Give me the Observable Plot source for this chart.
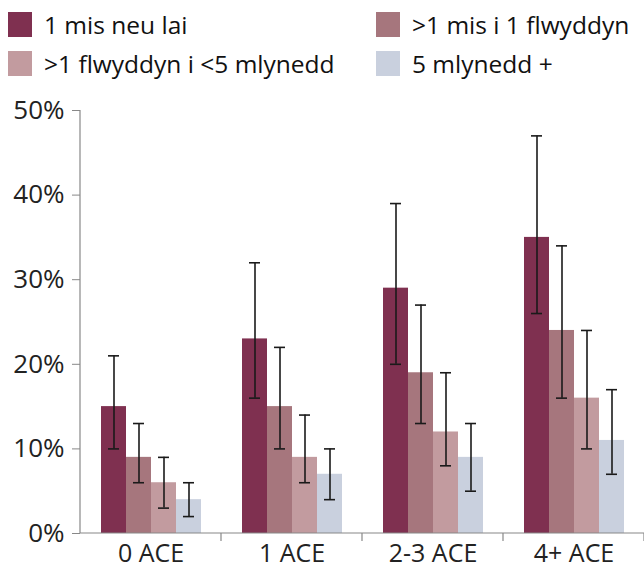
<!DOCTYPE html>
<html>
<head>
<meta charset="utf-8">
<script src="https://cdn.jsdelivr.net/npm/d3@7"></script>
<script src="https://cdn.jsdelivr.net/npm/@observablehq/plot@0.6"></script>
<style>
  body { margin: 0; background: #fff; font-family: "Open Sans", sans-serif; }
  #legend { display: grid; grid-template-columns: 368px 268px; row-gap: 10px; padding: 12px 0 0 8px; height: 80px; box-sizing: border-box; }
  .item { display: flex; align-items: center; font-family: "Open Sans", sans-serif; font-size: 24.5px; color: #111; height: 25px; white-space: nowrap; }
  .sw { width: 24px; height: 25px; margin-right: 12px; flex: none; }
</style>
</head>
<body>
<div id="legend"></div>
<div id="chart"></div>
<script>
const groups = ["0 ACE", "1 ACE", "2-3 ACE", "4+ ACE"];
const series = ["1 mis neu lai", ">1 mis i 1 flwyddyn", ">1 flwyddyn i <5 mlynedd", "5 mlynedd +"];
const colors = ["#7f3050", "#a6767d", "#c29b9f", "#c9d0de"];
// values per series across groups (percent)
const v1 = [15, 23, 29, 35];
const v2 = [9, 15, 19, 24];
const v3 = [6, 9, 12, 16];
const v4 = [4, 7, 9, 11];
const lo1 = [10, 16, 20, 26];
const lo2 = [6, 10, 13, 16];
const lo3 = [3, 6, 8, 10];
const lo4 = [2, 4, 5, 7];
const hi1 = [21, 32, 39, 47];
const hi2 = [13, 22, 27, 34];
const hi3 = [9, 14, 19, 24];
const hi4 = [6, 10, 13, 17];
const yTicks = [0, 10, 20, 30, 40, 50];

const vals = [v1, v2, v3, v4], los = [lo1, lo2, lo3, lo4], his = [hi1, hi2, hi3, hi4];
const data = [];
groups.forEach((g, i) => series.forEach((s, j) => data.push({group: g, series: s, value: vals[j][i], lo: los[j][i], hi: his[j][i]})));

const legend = document.getElementById("legend");
series.forEach((s, j) => {
  const it = document.createElement("div");
  it.className = "item";
  const sw = document.createElement("span");
  sw.className = "sw";
  sw.style.background = colors[j];
  const t = document.createElement("span");
  t.textContent = s;
  it.append(sw, t);
  legend.append(it);
});

const plot = Plot.plot({
  width: 644,
  height: 488,
  marginLeft: 80,
  marginRight: 0,
  marginTop: 30,
  marginBottom: 35,
  style: {fontFamily: "Open Sans", fontSize: "24px", color: "#222", background: "#fff"},
  fx: {domain: groups, padding: 0, label: null},
  x: {domain: series, paddingInner: 0, paddingOuter: 0.76, axis: null},
  y: {domain: [0, 50], label: null},
  color: {domain: series, range: colors},
  facet: {data, x: "group", marginBottom: 35},
  marks: [
    Plot.axisFx({anchor: "bottom", tickSize: 0, tickPadding: 11, fontSize: 25, fill: "#222", label: null}),
    Plot.axisY({ticks: yTicks, tickFormat: d => d + "%", tickSize: 8, tickPadding: 8, stroke: "#888", fontSize: 26, fill: "#222", label: null}),
    Plot.barY(data, {x: "series", y: "value", fill: "series"}),
    Plot.ruleX(data, {x: "series", y1: "lo", y2: "hi", stroke: "#1a1a1a", strokeWidth: 1.6}),
    Plot.tickY(data, {x: "series", y: "lo", stroke: "#1a1a1a", strokeWidth: 1.6, insetLeft: 7, insetRight: 7}),
    Plot.tickY(data, {x: "series", y: "hi", stroke: "#1a1a1a", strokeWidth: 1.6, insetLeft: 7, insetRight: 7})
  ]
});
document.getElementById("chart").append(plot);

// axis lines and group boundary ticks, placed through Plot's scales
const fx = plot.scale("fx"), y = plot.scale("y");
const svg = d3.select(plot);
const x0 = fx.apply(groups[0]);
const edges = groups.map(g => fx.apply(g)).concat([fx.apply(groups[groups.length - 1]) + fx.bandwidth]);
const g = svg.append("g").attr("stroke", "#888").attr("stroke-width", 1.2);
g.append("line").attr("x1", x0).attr("x2", x0).attr("y1", y.apply(50)).attr("y2", y.apply(0));
g.append("line").attr("x1", x0).attr("x2", edges[edges.length - 1]).attr("y1", y.apply(0)).attr("y2", y.apply(0));
edges.slice(1).forEach(e => g.append("line").attr("x1", e).attr("x2", e).attr("y1", y.apply(0)).attr("y2", y.apply(0) + 8));
</script>
</body>
</html>
